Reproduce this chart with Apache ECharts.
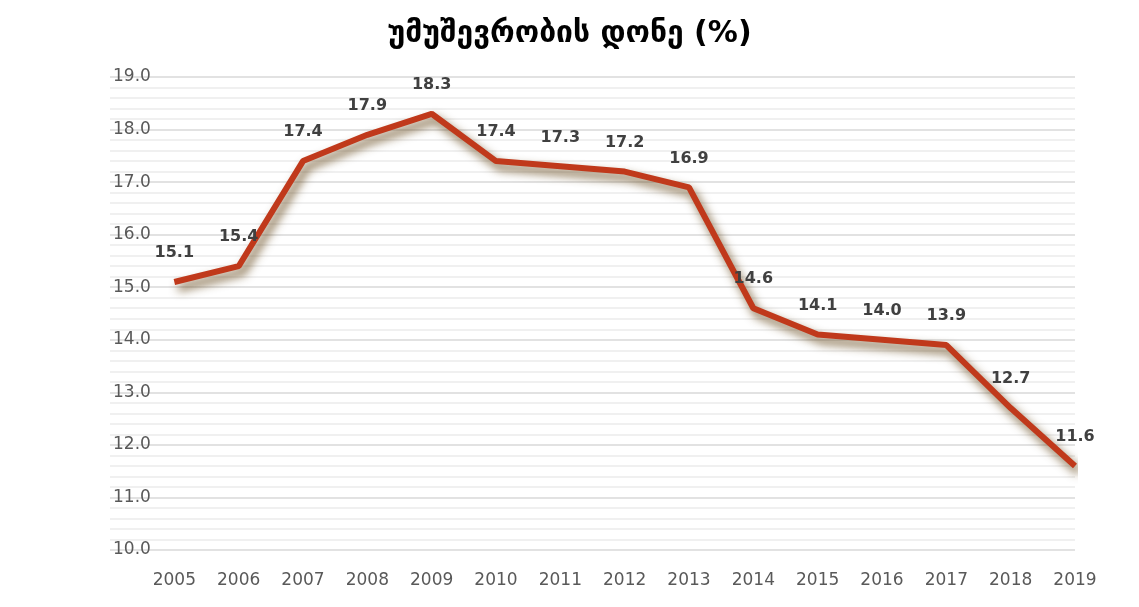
<!DOCTYPE html>
<html>
<head>
<meta charset="utf-8">
<script src="https://cdn.jsdelivr.net/npm/echarts@6/dist/echarts.min.js"></script>
<style>
html, body { margin: 0; padding: 0; background: #fff; }
#main { width: 1139px; height: 607px; }
</style>
</head>
<body>
<div id="main"></div>
<script>
var years = [2005, 2006, 2007, 2008, 2009, 2010, 2011, 2012, 2013, 2014, 2015, 2016, 2017, 2018, 2019];
var rates = [15.1, 15.4, 17.4, 17.9, 18.3, 17.4, 17.3, 17.2, 16.9, 14.6, 14.1, 14.0, 13.9, 12.7, 11.6];
var titleText = 'უმუშევრობის დონე (%)';

var myChart = echarts.init(document.getElementById('main'));
var option = {
    backgroundColor: '#fff',
    title: {
        text: titleText,
        left: 'center',
        top: 14,
        textStyle: {
            fontFamily: 'DejaVu Sans',
            fontSize: 30,
            fontWeight: 'bold',
            color: '#000'
        }
    },
    grid: {
        left: 110,
        right: 64,
        top: 77,
        bottom: 57
    },
    xAxis: {
        type: 'value',
        min: 2004,
        max: 2019,
        interval: 1,
        axisLine: { show: false },
        axisTick: { show: false },
        splitLine: { show: false },
        axisLabel: {
            margin: 22,
            color: '#595959',
            fontSize: 17,
            fontFamily: 'DejaVu Sans',
            formatter: function (v) { return v === 2004 ? '' : String(v); }
        }
    },
    yAxis: {
        type: 'value',
        min: 10,
        max: 19,
        interval: 1,
        axisLine: { show: false },
        axisTick: { show: false },
        axisLabel: {
            inside: true,
            margin: 3,
            verticalAlign: 'middle',
            color: '#595959',
            fontSize: 17,
            fontFamily: 'DejaVu Sans',
            formatter: function (v) { return v.toFixed(1); }
        },
        splitLine: { lineStyle: { color: '#d9d9d9', width: 1.5 } },
        minorTick: { show: false, splitNumber: 5 },
        minorSplitLine: { show: true, lineStyle: { color: '#ececec', width: 1.5 } }
    },
    series: [{
        type: 'line',
        data: years.map(function (y, i) { return [y, rates[i]]; }),
        symbol: 'circle',
        symbolSize: 2,
        showSymbol: true,
        itemStyle: { color: 'rgba(0,0,0,0)', borderWidth: 0 },
        lineStyle: {
            color: '#c0391b',
            width: 6,
            shadowColor: 'rgba(100,70,25,0.85)',
            shadowBlur: 10,
            shadowOffsetX: 4,
            shadowOffsetY: 6
        },
        label: {
            show: true,
            position: 'top',
            distance: 20,
            color: '#404040',
            fontSize: 16,
            fontWeight: 'bold',
            fontFamily: 'DejaVu Sans',
            formatter: function (p) { return p.value[1].toFixed(1); }
        }
    }]
};
myChart.setOption(option);
</script>
</body>
</html>
